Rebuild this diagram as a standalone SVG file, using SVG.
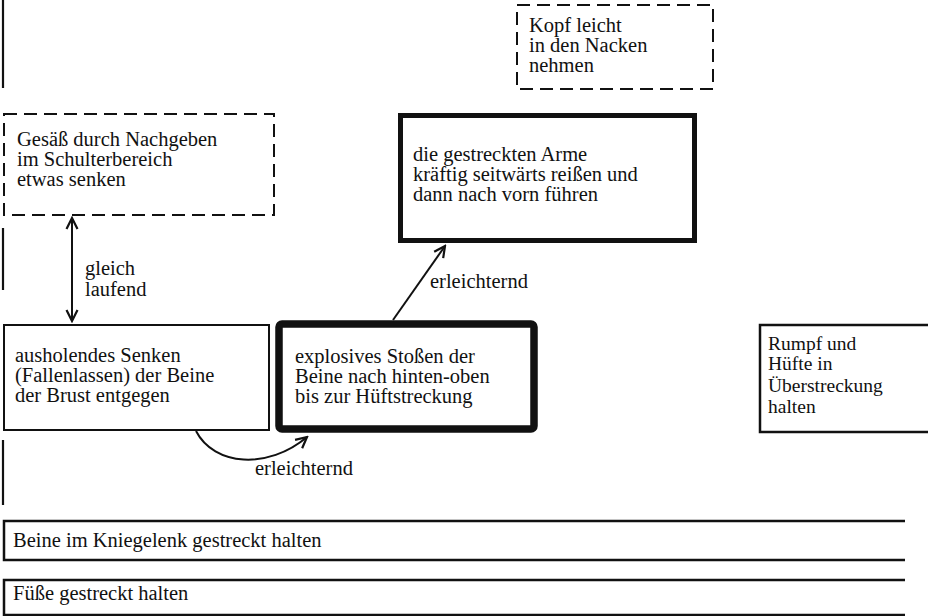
<svg xmlns="http://www.w3.org/2000/svg" width="928" height="616" viewBox="0 0 928 616">
<style>
.t{font-family:"Liberation Serif","Times New Roman",serif;font-size:20.5px;fill:#111}
.r{font-size:19.5px}
.b{fill:#fff;stroke:#111;stroke-width:2}
.o{fill:none;stroke:#111;stroke-width:2.2}
.d{stroke-dasharray:13 7}
.c{fill:none;stroke:#111;stroke-width:2}
</style>
<defs>
<marker id="ah" viewBox="0 0 14 14" refX="12" refY="7" markerWidth="14" markerHeight="14" markerUnits="userSpaceOnUse" orient="auto-start-reverse">
<path d="M1,1.5 L12,7 L1,12.5" fill="none" stroke="#111" stroke-width="2.2"/>
</marker>
</defs>
<g id="margin">
<path class="o" d="M3,0 V88 M3,228 V290 M3,440 V505"/>
</g>
<g id="connectors">
<line class="c" x1="72" y1="218" x2="72" y2="321" marker-start="url(#ah)" marker-end="url(#ah)"/>
<line class="c" x1="393" y1="320" x2="445" y2="246" marker-end="url(#ah)"/>
<path class="c" d="M196,431 C214,466 268,470 307,437" marker-end="url(#ah)"/>
<text class="t" x="85" y="275">gleich</text>
<text class="t" x="85" y="296">laufend</text>
<text class="t" x="430" y="288">erleichternd</text>
<text class="t" x="255" y="475">erleichternd</text>
</g>
<g id="kopf">
<rect class="b d" x="517" y="5" width="196" height="84"/>
<text class="t" x="529" y="32">Kopf leicht</text>
<text class="t" x="529" y="52">in den Nacken</text>
<text class="t" x="529" y="72">nehmen</text>
</g>
<g id="gesaess">
<rect class="b d" x="4" y="114" width="270" height="101"/>
<text class="t" x="17" y="146">Gesäß durch Nachgeben</text>
<text class="t" x="17" y="166">im Schulterbereich</text>
<text class="t" x="17" y="186">etwas senken</text>
</g>
<g id="arme">
<rect class="b" x="400.5" y="115.5" width="294" height="125" style="stroke-width:5"/>
<text class="t" x="413" y="161">die gestreckten Arme</text>
<text class="t" x="413" y="181">kräftig seitwärts reißen und</text>
<text class="t" x="413" y="201">dann nach vorn führen</text>
</g>
<g id="ausholen">
<rect class="b" x="4" y="325" width="265" height="105"/>
<text class="t" x="15" y="362">ausholendes Senken</text>
<text class="t" x="15" y="382">(Fallenlassen) der Beine</text>
<text class="t" x="15" y="402">der Brust entgegen</text>
</g>
<g id="explosiv">
<rect class="b" x="279" y="324" width="255" height="105" rx="3" style="stroke-width:7.5"/>
<text class="t" x="295" y="363">explosives Stoßen der</text>
<text class="t" x="295" y="383">Beine nach hinten-oben</text>
<text class="t" x="295" y="403">bis zur Hüftstreckung</text>
</g>
<g id="rumpf">
<path class="o" d="M930,325 H760 V432 H930" style="stroke-width:2.5"/>
<text class="t r" x="768" y="350">Rumpf und</text>
<text class="t r" x="768" y="370">Hüfte in</text>
<text class="t r" x="768" y="392">Überstreckung</text>
<text class="t r" x="768" y="413">halten</text>
</g>
<g id="beine">
<path class="o" d="M905,521 H4 V560 H905" style="stroke-width:2.5"/>
<text class="t" x="13" y="547">Beine im Kniegelenk gestreckt halten</text>
</g>
<g id="fuesse">
<path class="o" d="M905,580 H4 V615 H905" style="stroke-width:2.5"/>
<text class="t" x="13" y="600">Füße gestreckt halten</text>
</g>
</svg>
